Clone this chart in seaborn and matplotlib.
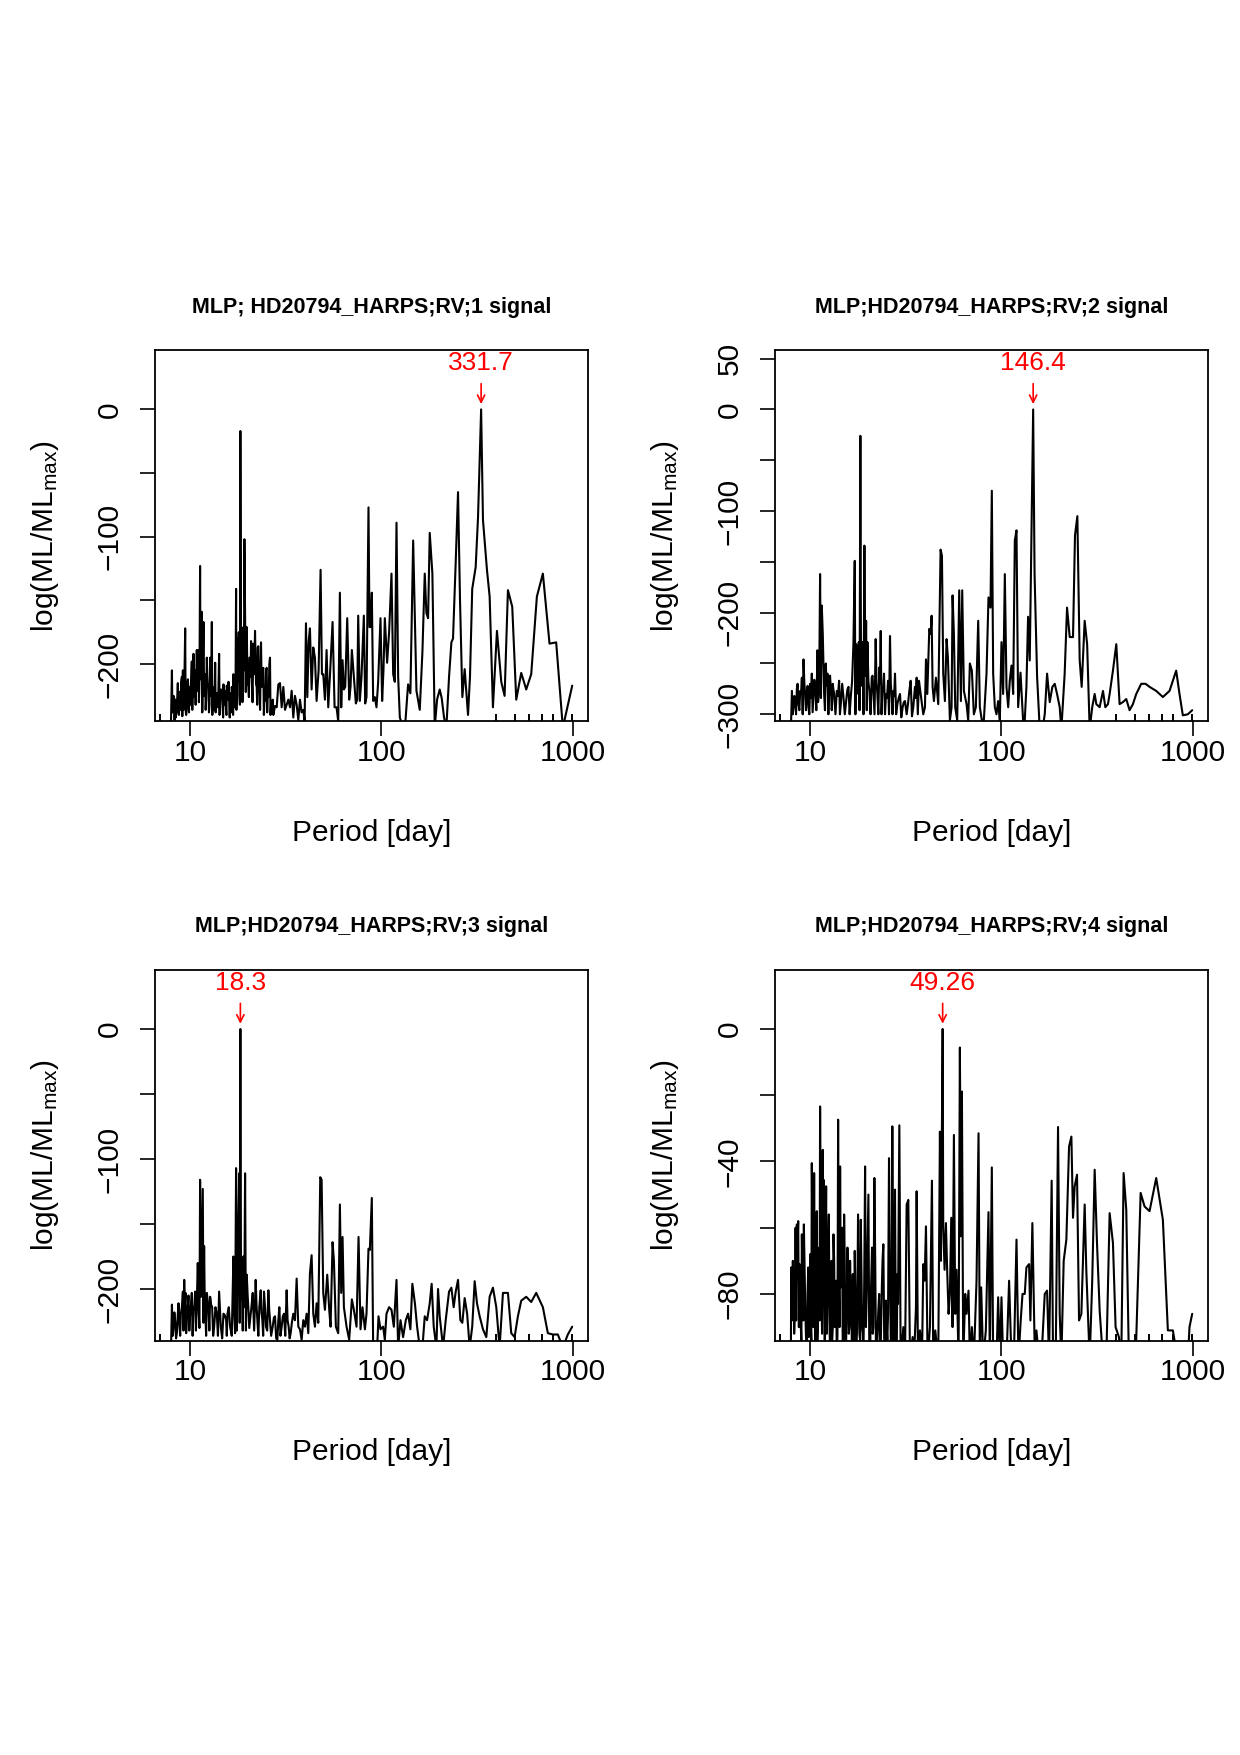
import numpy as np
import pandas as pd
import seaborn as sns
import matplotlib.pyplot as plt
from matplotlib.ticker import FixedLocator, NullLocator

# ── data ────────────────────────────────────────────────────────────────────
p1_period = [7.93, 8.03, 8.12, 8.19, 8.29, 8.35, 8.45, 8.52, 8.62, 8.69,
             8.80, 8.87, 8.98, 9.05, 9.16, 9.23, 9.42, 9.53, 9.61, 9.73,
             9.80, 9.92, 10.0, 10.12, 10.2, 10.32, 10.41, 10.54, 10.62, 10.75,
             10.83, 10.96, 11.05, 11.18, 11.27, 11.41, 11.5, 11.64, 11.74, 11.88,
             11.97, 12.12, 12.22, 12.37, 12.47, 12.62, 12.72, 12.87, 12.98, 13.13,
             13.24, 13.40, 13.51, 13.67, 13.78, 14.0, 14.17, 14.34, 14.63, 14.81,
             14.93, 15.11, 15.23, 15.42, 15.54, 15.73, 15.86, 16.04, 16.17, 16.37,
             16.50, 16.70, 16.83, 17.04, 17.24, 17.38, 17.52, 17.73, 17.95, 18.09,
             18.3, 18.53, 18.68, 18.83, 18.98, 19.21, 19.45, 19.61, 19.76, 20.0,
             20.16, 20.40, 20.56, 20.81, 20.98, 21.40, 21.83, 22.10, 22.27, 22.54,
             22.72, 22.99, 23.46, 23.84, 24.13, 24.42, 24.61, 24.92, 25.12, 25.42,
             25.63, 25.93, 26.14, 26.46, 26.67, 27.0, 27.21, 27.76, 28.33, 28.90,
             29.48, 30.08, 30.69, 31.31, 31.94, 32.59, 33.25, 33.92, 34.60, 35.30,
             36.02, 36.75, 37.49, 38.25, 39.02, 39.65, 40.30, 40.95, 41.61, 42.27,
             43.13, 44.0, 44.89, 45.80, 46.92, 48.05, 48.84, 49.61, 50.62, 51.64,
             52.69, 53.75, 55.50, 56.86, 58.23, 59.41, 60.61, 61.59, 62.59, 63.61,
             64.63, 66.21, 67.80, 68.90, 70.01, 71.71, 73.46, 74.65, 75.56, 77.07,
             78.63, 80.87, 82.18, 83.50, 85.52, 86.56, 87.61, 89.02, 90.46, 92.29,
             94.16, 96.07, 98.80, 100.8, 102.4, 104.1, 107.0, 109.6, 112.8, 115.1,
             117.4, 119.8, 122.2, 124.7, 129.7, 133.4, 137.7, 141.6, 146.4, 152.3,
             158.5, 163.7, 168.3, 171.7, 175.2, 178.7, 184.5, 189.8, 195.2, 201.5,
             206.5, 212.3, 218.3, 225.5, 231.9, 236.5, 244.3, 251.2, 257.3, 264.6,
             272.1, 283.3, 290.1, 298.0, 310.6, 319.5, 331.7, 339.2, 355.8, 367.5,
             382.4, 401.3, 422.7, 440.0, 458.0, 482.4, 506.2, 537.5, 570.8, 606.1,
             648.9, 697.4, 755.5, 818.5, 886.8, 992.6]
p1_loglik = [-250, -205, -235, -225, -244, -228, -240, -234, -215, -238,
             -222, -236, -214, -210, -205, -236, -172, -240, -234, -212,
             -228, -218, -232, -212, -198, -222, -192, -226, -205, -215,
             -189, -221, -189, -215, -123, -200, -159, -210, -167, -225,
             -208, -228, -195, -218, -219, -232, -195, -225, -167, -222,
             -221, -236, -199, -230, -223, -234, -192, -226, -223, -236,
             -216, -232, -221, -238, -217, -228, -214, -232, -223, -238,
             -218, -230, -208, -234, -234, -141, -210, -180, -175, -225,
             -17, -190, -175, -215, -171, -102, -200, -182, -171, -215,
             -218, -195, -195, -182, -212, -184, -174, -216, -218, -187,
             -186, -220, -183, -205, -203, -230, -229, -205, -203, -225,
             -226, -200, -195, -232, -237, -228, -240, -233, -234, -216,
             -215, -234, -218, -236, -232, -228, -234, -221, -242, -225,
             -232, -244, -228, -238, -236, -245, -168, -226, -183, -172,
             -220, -187, -195, -229, -205, -126, -208, -208, -228, -189,
             -234, -210, -167, -234, -234, -245, -144, -234, -197, -220,
             -218, -164, -228, -218, -189, -210, -231, -228, -162, -229,
             -210, -162, -231, -226, -77, -171, -171, -144, -229, -226,
             -234, -214, -164, -229, -205, -164, -199, -175, -129, -208,
             -214, -89, -210, -242, -250, -245, -216, -223, -103, -221,
             -236, -190, -129, -160, -164, -97, -129, -250, -228, -220,
             -227, -242, -250, -210, -183, -180, -120, -65, -150, -226,
             -204, -240, -210, -141, -124, -85, 0, -87, -126, -147,
             -234, -174, -214, -225, -142, -155, -228, -207, -220, -208,
             -147, -129, -184, -183, -250, -217]
# extra low-lying points of the dense short-period forest
p1_dense_period = [8.07, 8.24, 8.40, 8.57, 8.74, 8.92, 9.10, 9.31, 9.47, 9.67,
                   9.86, 10.06, 10.26, 10.47, 10.68, 10.90, 11.11, 11.33, 11.57, 11.81,
                   12.05, 12.29, 12.54, 12.80, 13.06, 13.32, 13.59, 13.89, 14.25, 14.50,
                   14.87, 15.17, 15.48, 15.80, 16.10, 16.44, 16.77, 17.14, 17.45, 17.84,
                   18.20, 18.45, 18.76, 19.10, 19.53, 19.88, 20.28, 20.70, 21.19, 21.62,
                   22.40, 22.85, 23.20, 23.65, 24.28, 24.77, 25.27, 25.78, 26.30]
p1_dense_loglik = [-238, -226, -242, -225, -240, -228, -241, -222, -236, -218,
                   -238, -220, -236, -210, -232, -206, -230, -212, -238, -214,
                   -236, -210, -238, -214, -240, -218, -238, -224, -240, -220,
                   -242, -226, -240, -228, -242, -226, -240, -220, -236, -214,
                   -232, -210, -230, -205, -222, -200, -226, -210, -230, -208,
                   -232, -210, -236, -218, -240, -222, -238, -220, -240]

p2_period = [7.93, 8.03, 8.19, 8.35, 8.52, 8.69, 8.87, 9.05, 9.23, 9.42,
             9.61, 9.80, 10.0, 10.2, 10.41, 10.62, 10.92, 11.14, 11.27, 11.5,
             11.64, 11.83, 12.07, 12.32, 12.57, 12.82, 13.13, 13.35, 13.78, 14.17,
             14.46, 14.93, 15.42, 15.86, 16.30, 16.83, 17.10, 17.38, 17.66, 17.95,
             18.3, 18.60, 18.83, 19.21, 19.61, 19.92, 20.40, 20.98, 21.40, 22.0,
             22.45, 22.99, 23.37, 23.84, 24.32, 24.92, 25.53, 26.14, 26.67, 27.21,
             27.76, 28.56, 29.48, 30.44, 31.31, 31.94, 32.99, 33.52, 34.60, 35.30,
             36.02, 37.05, 37.79, 39.02, 39.81, 40.30, 40.95, 41.94, 42.61, 43.13,
             43.65, 44.35, 45.43, 46.72, 48.05, 48.84, 49.61, 50.62, 51.64, 52.47,
             53.75, 54.84, 55.50, 56.40, 57.30, 58.70, 60.13, 61.35, 62.34, 63.61,
             65.67, 67.00, 68.35, 70.01, 71.71, 73.46, 75.56, 77.07, 78.94, 80.87,
             83.50, 85.52, 87.61, 89.02, 90.46, 92.29, 94.16, 96.07, 98.01, 100.0,
             102.0, 104.1, 106.2, 108.4, 110.5, 112.8, 115.1, 117.4, 119.8, 122.2,
             125.7, 129.7, 132.3, 135.0, 137.7, 140.5, 146.4, 148.9, 153.5, 158.5,
             163.7, 168.3, 173.1, 178.7, 184.5, 189.8, 195.2, 201.5, 205.5, 213.9,
             220.1, 227.3, 236.5, 242.2, 249.2, 256.3, 262.5, 272.1, 280.3, 289.0,
             298.0, 306.9, 313.1, 325.9, 339.2, 348.9, 360.1, 367.5, 382.4, 398.1,
             414.3, 431.3, 448.9, 467.2, 486.3, 506.2, 537.5, 566.3, 594.1, 643.7,
             697.4, 755.5, 818.5, 852.0, 886.8, 941.7, 992.6]
p2_loglik = [-315, -277, -293, -285, -275, -290, -277, -264, -246, -283,
             -277, -293, -270, -260, -280, -273, -237, -277, -162, -193,
             -221, -280, -250, -260, -277, -273, -270, -280, -277, -267,
             -290, -283, -287, -273, -283, -231, -149, -231, -260, -229,
             -26, -241, -229, -134, -208, -229, -277, -264, -277, -226,
             -280, -254, -218, -277, -260, -280, -267, -223, -283, -277,
             -260, -290, -280, -293, -287, -300, -277, -267, -293, -273,
             -264, -267, -280, -300, -293, -246, -280, -216, -221, -203,
             -273, -287, -264, -290, -138, -144, -260, -287, -226, -244,
             -306, -293, -183, -221, -293, -306, -178, -287, -178, -277,
             -290, -306, -250, -257, -300, -293, -208, -293, -306, -306,
             -260, -185, -195, -80, -260, -293, -300, -287, -306, -229,
             -280, -162, -273, -293, -267, -252, -280, -129, -119, -293,
             -259, -306, -306, -273, -204, -247, 0, -162, -263, -315,
             -315, -300, -260, -288, -273, -270, -280, -293, -315, -260,
             -195, -224, -224, -124, -105, -247, -273, -208, -231, -315,
             -293, -280, -290, -293, -277, -293, -290, -280, -257, -231,
             -290, -288, -285, -296, -290, -280, -270, -270, -273, -277,
             -283, -277, -257, -280, -301, -300, -296]
p2_dense_period = [8.11, 8.27, 8.44, 8.60, 8.78, 8.96, 9.14, 9.32, 9.51, 9.70,
                   9.90, 10.1, 10.3, 10.51, 10.77, 11.0, 11.39, 11.95, 12.19, 12.45,
                   12.70, 12.97, 13.24, 13.56, 13.97, 14.31, 14.70, 15.17, 15.64, 16.08,
                   16.56, 17.24, 17.52, 18.12, 18.45, 19.0, 19.41, 19.76, 20.16, 20.69,
                   21.19, 21.70, 22.22, 22.72, 23.18, 23.6, 24.08, 24.62, 25.22, 25.83,
                   26.40, 26.94, 27.48, 28.15, 29.02, 29.95, 30.87, 32.45, 34.05, 35.66,
                   36.53, 38.4]
p2_dense_loglik = [-300, -282, -300, -270, -296, -280, -300, -268, -296, -272,
                   -300, -284, -298, -266, -296, -288, -284, -296, -272, -300,
                   -262, -296, -276, -300, -282, -300, -270, -300, -276, -300,
                   -268, -300, -280, -296, -272, -300, -262, -296, -268, -300,
                   -262, -300, -268, -300, -270, -300, -276, -300, -284, -300,
                   -270, -300, -282, -300, -284, -303, -288, -290, -302, -284,
                   -300, -290]

p3_period = [7.93, 8.03, 8.19, 8.35, 8.52, 8.69, 8.80, 8.94, 9.16, 9.31,
             9.46, 9.61, 9.80, 10.0, 10.2, 10.41, 10.62, 10.83, 10.96, 11.09,
             11.27, 11.5, 11.64, 11.83, 12.02, 12.22, 12.47, 12.72, 13.03, 13.35,
             13.78, 14.17, 14.46, 14.93, 15.42, 15.67, 16.17, 16.83, 17.17, 17.38,
             17.66, 18.02, 18.3, 18.60, 18.98, 19.37, 19.76, 20.16, 20.56, 21.23,
             22.0, 22.45, 22.99, 23.37, 23.84, 24.32, 24.92, 25.63, 26.14, 27.0,
             27.76, 28.56, 29.25, 30.08, 30.94, 31.94, 32.72, 33.52, 34.60, 35.30,
             36.02, 36.75, 37.49, 38.25, 39.02, 39.81, 40.62, 41.44, 42.27, 43.13,
             44.0, 44.89, 45.80, 46.72, 47.86, 48.65, 49.61, 50.62, 52.06, 53.32,
             54.18, 55.50, 56.40, 57.77, 59.41, 60.61, 61.59, 62.59, 63.61, 65.67,
             67.80, 70.01, 71.71, 74.05, 75.87, 77.69, 79.57, 81.90, 83.50, 85.52,
             86.91, 89.02, 90.46, 94.92, 96.47, 98.80, 102.0, 104.1, 106.2, 109.6,
             112.8, 116.0, 119.8, 122.2, 125.7, 129.7, 134.0, 137.7, 141.6, 145.0,
             149.5, 153.5, 158.5, 163.7, 168.3, 173.1, 178.7, 182.9, 187.5, 193.6,
             197.5, 201.5, 209.8, 216.6, 225.5, 231.9, 238.4, 244.3, 251.2, 258.4,
             264.6, 272.1, 280.3, 289.0, 298.0, 306.9, 315.6, 325.9, 339.2, 353.0,
             367.5, 382.4, 398.1, 414.3, 431.3, 458.0, 476.7, 496.2, 516.4, 537.5,
             570.8, 606.1, 643.7, 697.4, 740.6, 786.4, 835.2, 886.8, 941.7, 992.6]
p3_loglik = [-250, -212, -229, -225, -234, -211, -229, -219, -202, -193,
             -203, -224, -205, -219, -203, -214, -202, -211, -180, -219,
             -116, -170, -123, -167, -221, -203, -216, -206, -214, -229,
             -219, -202, -229, -219, -224, -219, -229, -175, -234, -107,
             -190, -111, 0, -188, -175, -111, -189, -216, -224, -203,
             -193, -224, -214, -201, -224, -202, -229, -201, -224, -229,
             -221, -239, -214, -229, -219, -201, -229, -234, -219, -224,
             -192, -229, -231, -239, -224, -229, -219, -234, -188, -174,
             -219, -229, -211, -226, -114, -116, -203, -216, -189, -216,
             -229, -164, -178, -229, -234, -135, -203, -160, -214, -229,
             -239, -208, -216, -229, -160, -231, -214, -231, -219, -169,
             -170, -130, -245, -245, -221, -231, -229, -239, -219, -214,
             -216, -229, -193, -245, -224, -237, -224, -219, -231, -196,
             -211, -229, -245, -245, -221, -224, -211, -196, -229, -245,
             -200, -221, -245, -224, -202, -199, -214, -202, -193, -224,
             -226, -207, -219, -245, -229, -194, -211, -221, -231, -237,
             -206, -199, -214, -245, -203, -203, -234, -237, -221, -209,
             -206, -210, -203, -214, -234, -235, -235, -245, -235, -229]
p3_dense_period = [8.11, 8.27, 8.44, 8.60, 8.87, 9.05, 9.23, 9.38, 9.53, 9.70,
                   9.90, 10.1, 10.3, 10.51, 10.72, 11.18, 11.39, 11.74, 11.92, 12.12,
                   12.34, 12.60, 12.87, 13.19, 13.56, 13.97, 14.31, 14.70, 15.17, 15.54,
                   15.92, 16.50, 17.0, 17.52, 18.15, 18.45, 18.83, 19.17, 19.56, 19.96,
                   20.36, 20.90, 21.60, 22.22, 22.72, 23.6, 24.08, 24.62, 25.27, 25.9,
                   26.5, 27.4, 28.15, 28.9, 29.65, 30.5, 31.4, 32.3, 33.1, 34.0]
p3_dense_loglik = [-236, -218, -238, -222, -236, -214, -232, -212, -234, -216,
                   -232, -212, -236, -214, -232, -230, -206, -226, -210, -236,
                   -208, -232, -212, -236, -214, -236, -216, -238, -220, -236,
                   -214, -236, -220, -232, -226, -208, -232, -214, -232, -204,
                   -230, -214, -232, -212, -236, -218, -236, -214, -232, -216,
                   -236, -222, -238, -224, -236, -221, -236, -224, -238, -226]

p4_period = [7.93, 7.96, 8.06, 8.19, 8.32, 8.39, 8.52, 8.66, 8.80, 8.94,
             9.05, 9.16, 9.27, 9.42, 9.61, 9.77, 9.92, 10.08, 10.2, 10.32,
             10.49, 10.62, 10.83, 10.96, 11.14, 11.27, 11.45, 11.64, 11.74, 11.93,
             12.12, 12.32, 12.52, 12.72, 12.92, 13.13, 13.35, 13.56, 13.78, 14.0,
             14.17, 14.34, 14.57, 14.81, 15.05, 15.29, 15.54, 15.79, 16.04, 16.30,
             16.57, 16.83, 17.10, 17.38, 17.80, 18.09, 18.39, 18.68, 18.98, 19.37,
             19.76, 20.16, 20.56, 21.06, 21.40, 21.66, 22.10, 22.72, 23.18, 23.65,
             24.13, 24.61, 25.12, 25.53, 25.83, 26.46, 26.88, 27.21, 27.76, 28.33,
             28.79, 29.25, 29.72, 30.69, 31.31, 31.94, 32.59, 33.25, 34.32, 34.88,
             35.73, 36.02, 36.60, 37.49, 38.41, 39.02, 39.65, 40.30, 41.11, 42.27,
             43.30, 44.0, 45.07, 46.72, 47.67, 48.25, 49.26, 49.61, 50.41, 51.23,
             52.06, 52.90, 53.75, 54.63, 55.50, 56.40, 57.30, 58.23, 59.65, 60.61,
             61.35, 62.10, 63.10, 64.63, 65.67, 67.26, 68.35, 70.01, 71.71, 74.05,
             75.87, 77.07, 78.31, 80.22, 82.84, 85.52, 86.91, 89.02, 90.46, 94.16,
             96.07, 98.01, 100.0, 102.0, 106.2, 109.6, 112.8, 116.0, 119.8, 122.7,
             125.7, 128.8, 132.3, 135.0, 139.4, 141.6, 145.0, 149.5, 152.3, 157.2,
             161.7, 168.3, 173.1, 177.2, 182.9, 186.0, 192.0, 197.5, 201.5, 205.5,
             211.4, 218.3, 225.5, 231.9, 236.5, 241.3, 248.2, 254.3, 261.5, 272.1,
             277.6, 289.0, 298.0, 306.9, 315.6, 325.9, 339.2, 353.0, 367.5, 382.4,
             394.8, 410.9, 422.7, 434.8, 448.9, 463.5, 482.4, 502.2, 533.7, 559.6,
             594.1, 643.7, 697.4, 740.6, 786.4, 835.2, 886.8, 941.7, 960.7, 992.6]
p4_loglik = [-100, -72, -78, -80, -86, -60, -59, -58, -71, -90,
             -62, -72, -59, -83, -100, -72, -85, -90, -40.5, -85,
             -43.5, -100, -55, -90, -66, -23.4, -80, -36.5, -45.5, -100,
             -47.5, -80, -56, -100, -70, -90, -70, -82, -100, -27.4,
             -80, -41.5, -70, -100, -56, -100, -83, -78, -90, -82,
             -100, -90, -67, -100, -56, -92, -57.6, -90, -100, -41.5,
             -80, -50, -100, -66, -90, -45, -100, -85, -100, -80,
             -65, -100, -90, -86, -39, -100, -29.4, -100, -48.5, -100,
             -83, -29.1, -100, -90, -100, -53, -51.6, -100, -93, -100,
             -84, -49, -100, -91, -100, -71, -76, -59.6, -100, -90,
             -45.8, -100, -91, -100, -31, -70, 0, -59.6, -72.7, -58.6,
             -73.7, -86, -80, -57, -90, -32, -86, -72.7, -100, -5.6,
             -62.6, -18.9, -100, -80, -86, -79, -100, -90, -100, -76,
             -31.5, -100, -78, -100, -91, -55.3, -100, -41.8, -100, -100,
             -81, -100, -81, -100, -100, -76, -100, -100, -63.6, -100,
             -89, -80, -80, -72, -71, -88, -58.6, -100, -91, -100,
             -100, -80, -79, -100, -45.8, -100, -100, -29.6, -86, -100,
             -70, -63.6, -35.5, -32.5, -57, -47.5, -44, -88, -86, -53,
             -73, -100, -76, -42.5, -64.6, -85, -100, -100, -55.6, -64.6,
             -90, -93, -100, -43.5, -54.6, -100, -100, -100, -49.5, -53.6,
             -55, -45, -57.6, -91, -91, -100, -100, -100, -90, -86]
p4_dense_period = [8.00, 8.12, 8.25, 8.36, 8.45, 8.59, 8.73, 8.87, 9.00, 9.10,
                   9.21, 9.34, 9.50, 9.69, 9.85, 10.0, 10.14, 10.26, 10.40, 10.55,
                   10.72, 10.90, 11.05, 11.20, 11.36, 11.54, 11.69, 11.84, 12.02, 12.22,
                   12.42, 12.62, 12.82, 13.02, 13.24, 13.46, 13.67, 13.89, 14.08, 14.25,
                   14.45, 14.69, 14.93, 15.17, 15.42, 15.66, 15.91, 16.17, 16.44, 16.70,
                   16.96, 17.24, 17.59, 17.94, 18.24, 18.53, 18.83, 19.17, 19.56, 19.96,
                   20.36, 20.81, 21.23, 21.88, 22.41, 22.95, 23.41, 23.89, 24.37, 24.86,
                   25.32, 26.15, 26.67, 27.48, 28.05, 28.56]
p4_dense_loglik = [-88, -70, -92, -75, -88, -66, -90, -78, -95, -74,
                   -88, -70, -92, -80, -93, -68, -94, -62, -90, -72,
                   -66, -94, -70, -88, -60, -92, -70, -82, -72, -92,
                   -66, -88, -74, -94, -62, -90, -76, -92, -64, -90,
                   -78, -60, -88, -72, -94, -66, -92, -70, -88, -74,
                   -94, -80, -90, -74, -94, -72, -92, -76, -90, -64,
                   -94, -78, -92, -70, -93, -80, -94, -70, -93, -82,
                   -94, -76, -93, -86, -95, -74]

# short marks sitting on the lower frame in every panel
rug_period = [6.97, 394.8, 496.2, 589.4, 691.8, 786.4, 992.6]

titles = ["MLP; HD20794_HARPS;RV;1 signal", "MLP;HD20794_HARPS;RV;2 signal",
          "MLP;HD20794_HARPS;RV;3 signal", "MLP;HD20794_HARPS;RV;4 signal"]
peak_period = [331.7, 146.4, 18.3, 49.26]
peak_label = ["331.7", "146.4", "18.3", "49.26"]

y_limits = [(-245, 46.4), (-306.9, 58.2), (-240, 45.4), (-94.2, 17.8)]
y_ticks = [[0, -50, -100, -150, -200],
           [50, 0, -50, -100, -150, -200, -250, -300],
           [0, -50, -100, -150, -200],
           [0, -20, -40, -60, -80]]
y_ticklabels = [["0", "", "\u2212100", "", "\u2212200"],
                ["50", "0", "", "\u2212100", "", "\u2212200", "", "\u2212300"],
                ["0", "", "\u2212100", "", "\u2212200"],
                ["0", "", "\u221240", "", "\u221280"]]

# ── styling ──────────────────────────────────────────────────────────────────
sns.set_theme(style="white")
plt.rcParams['font.family'] = ['Liberation Sans', 'DejaVu Sans']
plt.rcParams['mathtext.fontset'] = 'custom'
plt.rcParams['mathtext.rm'] = 'Liberation Sans'
plt.rcParams['mathtext.it'] = 'Liberation Sans:italic'
for key in ['text.color', 'axes.labelcolor', 'xtick.color', 'ytick.color']:
    plt.rcParams[key] = 'black'

fig = plt.figure(figsize=(12.4, 17.55), dpi=100)
boxes = [[0.125, 0.589, 0.349, 0.2114], [0.625, 0.589, 0.349, 0.2114],
         [0.125, 0.2359, 0.349, 0.2114], [0.625, 0.2359, 0.349, 0.2114]]

series = [(p1_period + p1_dense_period, p1_loglik + p1_dense_loglik),
          (p2_period + p2_dense_period, p2_loglik + p2_dense_loglik),
          (p3_period + p3_dense_period, p3_loglik + p3_dense_loglik),
          (p4_period + p4_dense_period, p4_loglik + p4_dense_loglik)]

for i, (period, loglik) in enumerate(series):
    ax = fig.add_axes(boxes[i])
    df = pd.DataFrame({"period": period, "loglik": loglik})
    sns.lineplot(data=df, x="period", y="loglik", ax=ax, color="black",
                 linewidth=1.5, estimator=None, sort=True)
    sns.rugplot(x=rug_period, ax=ax, height=0.02, color="black", linewidth=1.4)

    ax.set_xscale("log")
    ax.set_xlim(6.55, 1197)
    ax.set_ylim(*y_limits[i])
    ax.xaxis.set_major_locator(FixedLocator([10, 100, 1000]))
    ax.xaxis.set_minor_locator(NullLocator())
    ax.set_xticklabels(["10", "100", "1000"])
    ax.yaxis.set_major_locator(FixedLocator(y_ticks[i]))
    ax.set_yticklabels(y_ticklabels[i])

    ax.tick_params(axis="both", direction="out", length=10.5, width=1.2,
                   color="black", labelsize=21.5, labelcolor="black")
    ax.tick_params(axis="x", pad=2)
    ax.tick_params(axis="y", pad=12)
    for lab in ax.get_yticklabels():
        lab.set_rotation(90)
        lab.set_va("center")
    ax.xaxis.set_ticks_position("bottom")
    ax.yaxis.set_ticks_position("left")
    for sp in ax.spines.values():
        sp.set_color("black")
        sp.set_linewidth(1.3)

    ax.set_xlabel("Period [day]", fontsize=21.5)
    ax.xaxis.set_label_coords(0.5, -0.262)
    ax.set_ylabel(r"log(ML/ML$_{\mathrm{max}}$)", fontsize=21.5)
    ax.yaxis.set_label_coords(-0.218, 0.5)
    ax.set_title(titles[i], fontsize=15.5, fontweight="bold", pad=27)

    # red peak marker
    ax.text(peak_period[i], 0.966, peak_label[i], color="red", fontsize=19,
            ha="center", va="center",
            transform=ax.get_xaxis_transform())
    ax.annotate("", xy=(peak_period[i], 0.855), xytext=(peak_period[i], 0.91),
                xycoords=("data", "axes fraction"),
                textcoords=("data", "axes fraction"),
                arrowprops=dict(arrowstyle="->", color="red", lw=1.2,
                                mutation_scale=13, shrinkA=0, shrinkB=0))

fig.savefig("out.png", dpi=100)
